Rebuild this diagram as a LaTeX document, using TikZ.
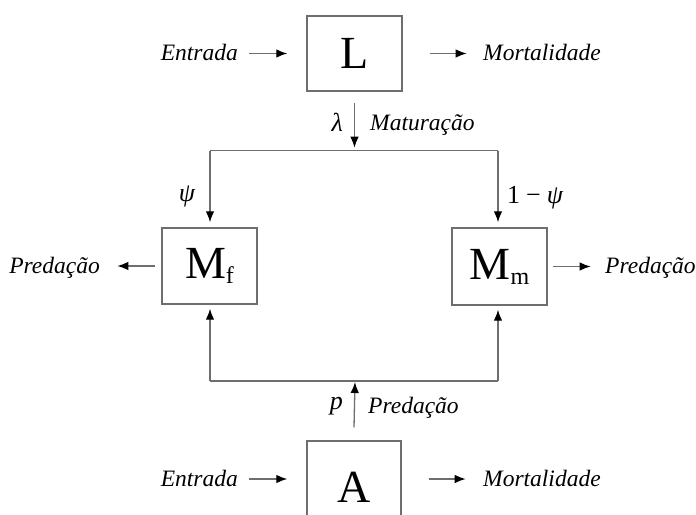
\documentclass[tikz,border=0pt]{standalone}
\usepackage{fontspec}
\setmainfont{Liberation Serif}
\usetikzlibrary{arrows.meta}
\definecolor{linegray}{RGB}{110,110,110}
\begin{document}
\begin{tikzpicture}[x=1pt,y=-1pt,
  box/.style={draw=linegray, line width=1.4pt, minimum width=95pt, minimum height=76pt, inner sep=0pt, font=\fontsize{46}{46}\selectfont},
  lbl/.style={font=\fontsize{23.5}{23.5}\selectfont\itshape, inner sep=0pt},
  mlbl/.style={font=\fontsize{26}{26}\selectfont, inner sep=0pt},
  con/.style={draw=linegray, line width=1.3pt},
  arr/.style={con, -{Latex[length=11pt,width=8.5pt,color=black]}}]
\useasboundingbox (0,0) rectangle (696,514);
\clip (0,0) rectangle (696,514);
\fill[white] (0,0) rectangle (696,514);
% boxes
\node[box, minimum height=75pt] (L) at (354.5,53.5) {L};
\node[box] (Mf) at (209.5,266) {M\raisebox{-5pt}{\fontsize{24}{24}\selectfont f}};
\node[box, minimum height=77pt] (Mm) at (499.5,266.5) {M\raisebox{-5pt}{\fontsize{24}{24}\selectfont m}};
\node[box, minimum width=94pt, minimum height=92pt] (A) at (354,487) {A};
% junction coordinates
\coordinate (jt) at (354.5,150.7);
\coordinate (tl) at (210,150.7);
\coordinate (tr) at (498,150.7);
\coordinate (bl) at (210,381);
\coordinate (br) at (498,381);
\coordinate (jb) at (355,381);
% labels
\node[lbl, anchor=base east] (entL) at (238,60) {Entrada};
\node[lbl, anchor=base west] (morL) at (483,60) {Mortalidade};
\node[mlbl, anchor=base east] (lam) at (343,131) {\itshape λ};
\node[lbl, anchor=base west] (mat) at (370,130) {Maturação};
\node[mlbl, anchor=base] (psi) at (187,201) {\itshape ψ};
\node[mlbl, anchor=base west] (opsi) at (507,203) {1\hspace{6pt}−\hspace{6pt}\textit{ψ}};
\node[lbl, anchor=base east] (predL) at (100,273) {Predação};
\node[lbl, anchor=base west] (predR) at (605,273) {Predação};
\node[mlbl, anchor=base east] (pp) at (343,409) {\itshape p};
\node[lbl, anchor=base west] (predA) at (368,413) {Predação};
\node[lbl, anchor=base east] (entA) at (238,486) {Entrada};
\node[lbl, anchor=base west] (morA) at (483,486) {Mortalidade};
% connectors
\draw[arr] ([xshift=-57pt]L.west) -- ([xshift=-19pt]L.west);
\draw[arr] ([xshift=27pt]L.east) -- ([xshift=64pt]L.east);
\draw[arr] ([yshift=-11pt]L.south) -- ([yshift=3pt]jt);
\draw[con] (tl) -- (tr);
\draw[arr] (tl) -- ([yshift=5pt]Mf.north -| tl);
\draw[arr] (tr) -- ([yshift=5pt]Mm.north -| tr);
\draw[arr] ([xshift=-6pt]Mf.west) -- ([xshift=-44pt]Mf.west);
\draw[arr] ([xshift=5pt]Mm.east) -- ([xshift=43pt]Mm.east);
\draw[con] (bl) -- (br);
\draw[arr] (bl) -- ([yshift=-4pt]Mf.south -| bl);
\draw[arr] (br) -- ([yshift=-4pt]Mm.south -| br);
\draw[arr] ([yshift=13pt]A.north) -- ([yshift=-1pt]jb);
\draw[arr] ([xshift=-57pt,yshift=8pt]A.west) -- ([xshift=-19pt,yshift=8pt]A.west);
\draw[arr] ([xshift=27pt,yshift=8pt]A.east) -- ([xshift=64pt,yshift=8pt]A.east);
\end{tikzpicture}
\end{document}
